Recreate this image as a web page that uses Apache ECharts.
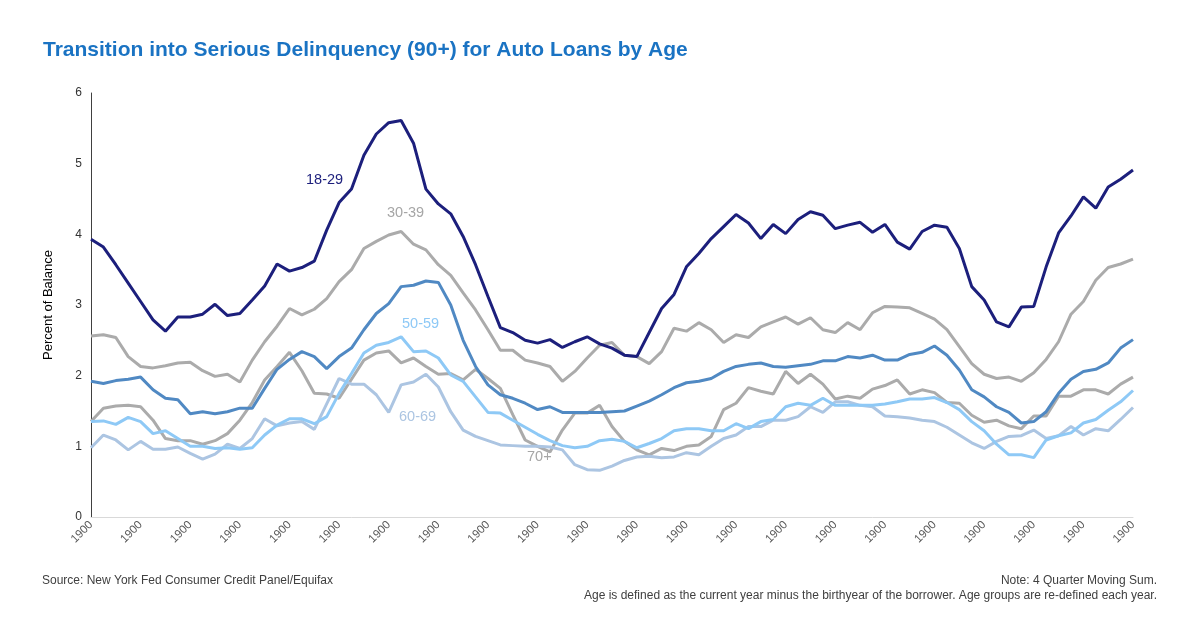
<!DOCTYPE html>
<html>
<head>
<meta charset="utf-8">
<script src="https://cdn.jsdelivr.net/npm/echarts@6/dist/echarts.min.js"></script>
<style>
  html, body { margin: 0; padding: 0; background: #fff; }
  #chart { width: 1200px; height: 628px; }
</style>
</head>
<body>
<div id="chart"></div>
<script>
// x axis: 85 quarterly points, every label reads 1900 in the source
const categories = Array.from({ length: 85 }, () => '1900');
const yTicks = [0, 1, 2, 3, 4, 5, 6];

const age1829 = [3.93,3.82,3.57,3.31,3.05,2.79,2.63,2.83,2.83,2.87,3.01,2.85,2.88,3.07,3.27,3.58,3.48,3.53,3.62,4.06,
  4.45,4.64,5.12,5.42,5.58,5.61,5.29,4.64,4.43,4.29,3.97,3.57,3.12,2.68,2.61,2.50,2.46,2.51,2.40,2.48,
  2.55,2.45,2.39,2.29,2.27,2.61,2.95,3.15,3.54,3.73,3.94,4.11,4.28,4.16,3.94,4.14,4.01,4.21,4.32,4.27,
  4.08,4.13,4.17,4.03,4.14,3.89,3.79,4.04,4.13,4.10,3.80,3.26,3.07,2.76,2.69,2.97,2.98,3.54,4.02,4.26,
  4.53,4.37,4.67,4.78,4.91];
const age3039 = [2.56,2.58,2.54,2.27,2.13,2.11,2.14,2.18,2.19,2.07,1.99,2.02,1.91,2.22,2.48,2.70,2.95,2.86,2.94,3.09,
  3.33,3.50,3.80,3.90,3.99,4.04,3.86,3.78,3.57,3.42,3.17,2.93,2.65,2.36,2.36,2.22,2.18,2.13,1.92,2.06,
  2.25,2.43,2.47,2.29,2.27,2.17,2.34,2.67,2.63,2.75,2.65,2.47,2.58,2.54,2.69,2.76,2.83,2.73,2.82,2.65,
  2.61,2.75,2.65,2.89,2.98,2.97,2.96,2.88,2.80,2.65,2.41,2.17,2.02,1.96,1.98,1.92,2.04,2.23,2.48,2.87,
  3.05,3.35,3.53,3.58,3.65];
const age4049 = [1.92,1.89,1.93,1.95,1.98,1.80,1.68,1.66,1.46,1.49,1.46,1.49,1.54,1.54,1.82,2.09,2.23,2.34,2.27,2.10,
  2.27,2.39,2.65,2.88,3.02,3.26,3.28,3.34,3.32,3.00,2.50,2.13,1.87,1.73,1.68,1.61,1.52,1.56,1.48,1.48,
  1.48,1.48,1.49,1.50,1.57,1.64,1.73,1.83,1.90,1.92,1.96,2.06,2.13,2.16,2.18,2.13,2.12,2.14,2.16,2.21,
  2.21,2.27,2.25,2.29,2.22,2.22,2.30,2.33,2.42,2.29,2.08,1.80,1.70,1.56,1.48,1.33,1.35,1.49,1.75,1.95,
  2.06,2.09,2.18,2.39,2.51];
const age5059 = [1.35,1.36,1.31,1.41,1.35,1.18,1.22,1.11,1.00,1.00,0.97,0.98,0.96,0.98,1.16,1.30,1.39,
  1.39,1.32,1.42,1.75,2.03,2.32,2.43,2.47,2.55,2.34,2.35,2.25,2.01,1.92,1.70,1.48,1.47,
  1.37,1.27,1.17,1.08,1.01,0.98,1.00,1.08,1.10,1.07,0.98,1.04,1.11,1.22,1.25,1.25,1.22,
  1.22,1.32,1.25,1.35,1.38,1.56,1.61,1.58,1.68,1.58,1.58,1.58,1.58,1.60,1.63,1.67,1.67,
  1.69,1.62,1.52,1.35,1.22,1.03,0.88,0.88,0.84,1.09,1.15,1.19,1.33,1.38,1.51,1.63,1.79];
const age6069 = [0.98,1.16,1.09,0.95,1.07,0.96,0.96,0.99,0.90,0.82,0.89,1.03,0.97,1.11,1.39,1.29,1.33,
  1.35,1.24,1.60,1.96,1.88,1.88,1.73,1.48,1.87,1.91,2.02,1.84,1.49,1.23,1.14,1.08,1.02,
  1.01,1.00,1.00,0.99,0.95,0.74,0.67,0.66,0.72,0.80,0.85,0.86,0.84,0.85,0.91,0.88,1.00,
  1.11,1.16,1.28,1.28,1.37,1.37,1.42,1.56,1.48,1.63,1.63,1.58,1.56,1.43,1.42,1.40,1.37,
  1.35,1.27,1.16,1.05,0.97,1.07,1.14,1.15,1.23,1.11,1.15,1.28,1.16,1.25,1.22,1.38,1.55];
const age70 = [1.35,1.54,1.57,1.58,1.56,1.37,1.11,1.08,1.08,1.03,1.08,1.18,1.37,1.62,1.94,2.13,2.33,
  2.07,1.75,1.74,1.68,1.95,2.22,2.32,2.35,2.18,2.25,2.13,2.02,2.03,1.94,2.09,1.96,1.82,
  1.45,1.09,1.00,0.92,1.23,1.47,1.47,1.58,1.28,1.07,0.95,0.88,0.97,0.94,1.00,1.02,1.14,
  1.52,1.61,1.83,1.78,1.74,2.06,1.89,2.02,1.88,1.67,1.71,1.68,1.81,1.86,1.94,1.74,1.80,
  1.76,1.62,1.61,1.44,1.34,1.37,1.29,1.25,1.43,1.43,1.71,1.71,1.80,1.80,1.74,1.88,1.98];

const seriesNames = ['18-29', '30-39', '40-49', '50-59', '60-69', '70+'];
const seriesData = [age1829, age3039, age4049, age5059, age6069, age70];
const seriesColors = ['#1c1f7c', '#ababab', '#5089c3', '#8ec9f6', '#acc5e2', '#ababab'];
const drawOrder = [5, 4, 3, 2, 1, 0]; // navy on top

const font = 'Arial, "Liberation Sans", sans-serif';

let chart = echarts.init(document.getElementById('chart'), null, { renderer: 'canvas' });

let series = drawOrder.map(function (k, n) {
  return {
    name: seriesNames[k],
    type: 'line',
    data: seriesData[k],
    symbol: 'none',
    z: 2 + n,
    lineStyle: { color: seriesColors[k], width: 3 },
    itemStyle: { color: seriesColors[k] },
    animation: false
  };
});

// in-chart series labels
function tag(text, x, y, color) {
  return {
    type: 'text', left: x, top: y,
    style: { text: text, fill: color, font: '14.5px ' + font }
  };
}

chart.setOption({
  backgroundColor: '#fff',
  animation: false,
  title: {
    text: 'Transition into Serious Delinquency (90+) for Auto Loans by Age',
    left: 38, top: 35,
    textStyle: { color: '#1a73c3', fontSize: 21, fontWeight: 'bold', fontFamily: font }
  },
  grid: { left: 91, right: 67, top: 93, bottom: 111, containLabel: false },
  xAxis: {
    type: 'category',
    data: categories,
    boundaryGap: false,
    axisLine: { show: true, lineStyle: { color: '#d9d9d9', width: 1 } },
    axisTick: { show: false },
    axisLabel: {
      interval: 3, rotate: 45, color: '#595959', fontSize: 11.5, fontFamily: font, margin: 6
    },
    splitLine: { show: false }
  },
  yAxis: {
    type: 'value',
    min: yTicks[0], max: yTicks[yTicks.length - 1], interval: 1,
    name: 'Percent of Balance',
    nameLocation: 'middle',
    nameGap: 36,
    nameTextStyle: { color: '#000', fontSize: 13, fontFamily: font },
    axisLine: { show: true, lineStyle: { color: '#404040', width: 1 } },
    axisTick: { show: false },
    axisLabel: { color: '#333', fontSize: 12, fontFamily: font, margin: 9 },
    splitLine: { show: false }
  },
  series: series,
  graphic: [
    tag('18-29', 306, 172, '#1c1f7c'),
    tag('30-39', 387, 205, '#a6a6a6'),
    tag('50-59', 402, 316, '#8ec9f6'),
    tag('60-69', 399, 409, '#acc5e2'),
    tag('70+', 527, 449, '#a6a6a6'),
    {
      type: 'text', left: 42, top: 575,
      style: { text: 'Source: New York Fed Consumer Credit Panel/Equifax', fill: '#404040', font: '12px ' + font }
    },
    {
      type: 'text', right: 43, top: 575,
      style: { text: 'Note: 4 Quarter Moving Sum.', fill: '#404040', font: '12px ' + font, align: 'right' }
    },
    {
      type: 'text', right: 43, top: 590,
      style: {
        text: 'Age is defined as the current year minus the birthyear of the borrower. Age groups are re-defined each year.',
        fill: '#404040', font: '12px ' + font, align: 'right'
      }
    }
  ]
});
</script>
</body>
</html>
